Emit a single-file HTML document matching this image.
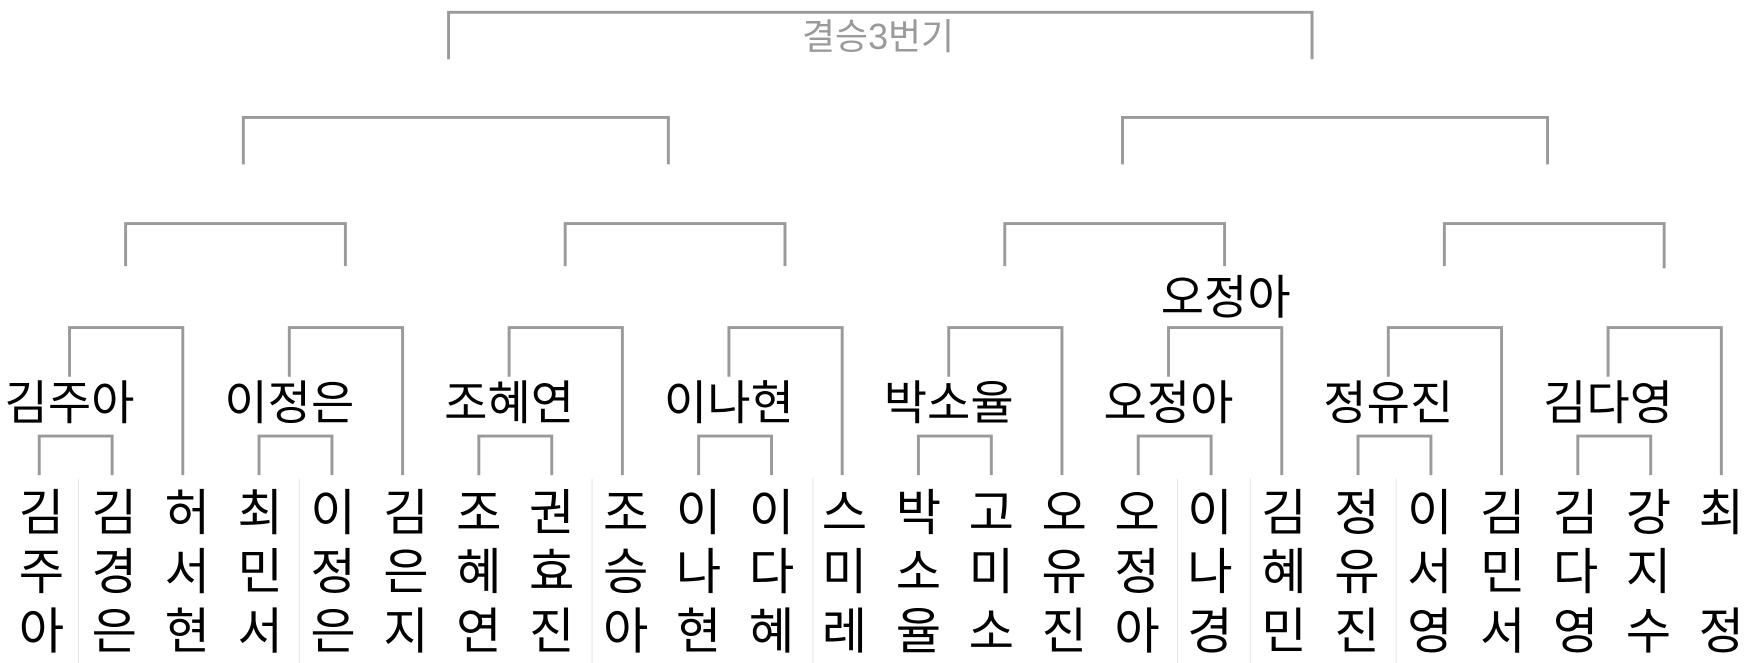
<!DOCTYPE html>
<html><head><meta charset="utf-8"><style>
html,body{margin:0;padding:0;background:#fff;}
svg{display:block;}
text{font-family:"Liberation Sans","Noto Sans CJK KR",sans-serif;}
</style></head><body>
<svg width="1755" height="663" viewBox="0 0 1565 593" preserveAspectRatio="none" xmlns="http://www.w3.org/2000/svg">
<g stroke="#e8e8e8" stroke-width="1">
<line x1="70" y1="428" x2="70" y2="593"/><line x1="267" y1="428" x2="267" y2="593"/>
<line x1="528" y1="428" x2="528" y2="593"/><line x1="725" y1="428" x2="725" y2="593"/>
<line x1="1050" y1="428" x2="1050" y2="593"/><line x1="1115" y1="428" x2="1115" y2="593"/>
<line x1="1245" y1="428" x2="1245" y2="593"/>
</g>
<g stroke="#9a9a9a" stroke-width="2.6" fill="none">
<path d="M400 53 V11 H1170 V53"/>
<path d="M217 147 V105 H596 V147"/>
<path d="M1001 147 V105 H1380 V147"/>
<path d="M112 238 V200 H308 V238"/>
<path d="M504 238 V200 H700 V238"/>
<path d="M896 238 V200 H1092 V238"/>
<path d="M1288 238 V200 H1484 V240"/>
<path d="M62 337 V293 H163 V425"/>
<path d="M258 337 V293 H359 V425"/>
<path d="M454 337 V293 H555 V425"/>
<path d="M650 337 V293 H751 V425"/>
<path d="M846 337 V293 H947 V425"/>
<path d="M1042 337 V293 H1143 V425"/>
<path d="M1238 337 V293 H1339 V425"/>
<path d="M1434 337 V293 H1535 V425"/>
<path d="M35 425 V390 H100 V425"/>
<path d="M231 425 V390 H296 V425"/>
<path d="M427 425 V390 H492 V425"/>
<path d="M623 425 V390 H688 V425"/>
<path d="M819 425 V390 H884 V425"/>
<path d="M1015 425 V390 H1080 V425"/>
<path d="M1211 425 V390 H1276 V425"/>
<path d="M1407 425 V390 H1472 V425"/>
</g>
<text x="783" y="44" font-size="32" fill="#9a9a9a" text-anchor="middle">결승3번기</text>
<text x="1093" y="281" font-size="42" text-anchor="middle">오정아</text>
<g font-size="42" text-anchor="middle">
<text x="62" y="375">김주아</text><text x="258" y="375">이정은</text>
<text x="454" y="375">조혜연</text><text x="650" y="375">이나현</text>
<text x="846" y="375">박소율</text><text x="1042" y="375">오정아</text>
<text x="1238" y="375">정유진</text><text x="1434" y="375">김다영</text>
</g>
<g font-size="44" text-anchor="middle">
<text x="37" y="474">김</text><text x="37" y="527">주</text><text x="37" y="580">아</text>
<text x="102" y="474">김</text><text x="102" y="527">경</text><text x="102" y="580">은</text>
<text x="167" y="474">허</text><text x="167" y="527">서</text><text x="167" y="580">현</text>
<text x="232" y="474">최</text><text x="232" y="527">민</text><text x="232" y="580">서</text>
<text x="297" y="474">이</text><text x="297" y="527">정</text><text x="297" y="580">은</text>
<text x="362" y="474">김</text><text x="362" y="527">은</text><text x="362" y="580">지</text>
<text x="427" y="474">조</text><text x="427" y="527">혜</text><text x="427" y="580">연</text>
<text x="492" y="474">권</text><text x="492" y="527">효</text><text x="492" y="580">진</text>
<text x="558" y="474">조</text><text x="558" y="527">승</text><text x="558" y="580">아</text>
<text x="623" y="474">이</text><text x="623" y="527">나</text><text x="623" y="580">현</text>
<text x="688" y="474">이</text><text x="688" y="527">다</text><text x="688" y="580">혜</text>
<text x="753" y="474">스</text><text x="753" y="527">미</text><text x="753" y="580">레</text>
<text x="819" y="474">박</text><text x="819" y="527">소</text><text x="819" y="580">율</text>
<text x="884" y="474">고</text><text x="884" y="527">미</text><text x="884" y="580">소</text>
<text x="949" y="474">오</text><text x="949" y="527">유</text><text x="949" y="580">진</text>
<text x="1014" y="474">오</text><text x="1014" y="527">정</text><text x="1014" y="580">아</text>
<text x="1079" y="474">이</text><text x="1079" y="527">나</text><text x="1079" y="580">경</text>
<text x="1145" y="474">김</text><text x="1145" y="527">혜</text><text x="1145" y="580">민</text>
<text x="1210" y="474">정</text><text x="1210" y="527">유</text><text x="1210" y="580">진</text>
<text x="1275" y="474">이</text><text x="1275" y="527">서</text><text x="1275" y="580">영</text>
<text x="1340" y="474">김</text><text x="1340" y="527">민</text><text x="1340" y="580">서</text>
<text x="1405" y="474">김</text><text x="1405" y="527">다</text><text x="1405" y="580">영</text>
<text x="1470" y="474">강</text><text x="1470" y="527">지</text><text x="1470" y="580">수</text>
<text x="1535" y="474">최</text><text x="1535" y="580">정</text>
</g>
</svg>
</body></html>
